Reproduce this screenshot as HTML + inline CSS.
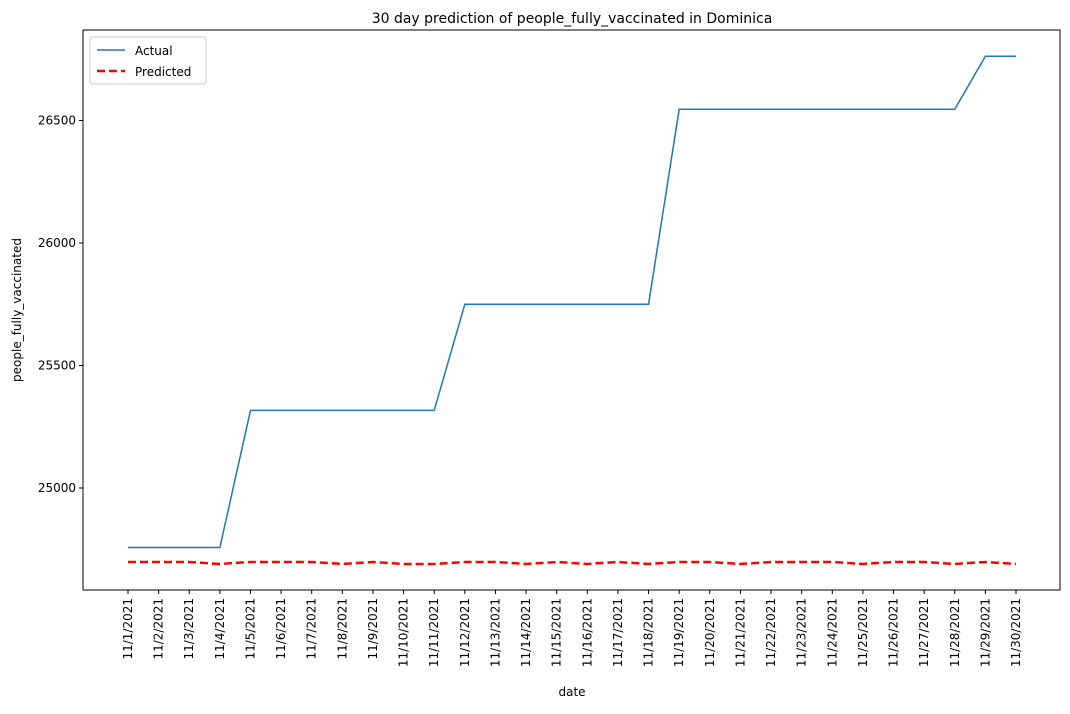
<!DOCTYPE html>
<html><head><meta charset="utf-8"><style>
body{margin:0;background:#fff;font-family:"Liberation Sans","DejaVu Sans",sans-serif}
svg text{font-family:"DejaVu Sans","Liberation Sans",sans-serif;font-size:12px;fill:#000}
</style></head><body>
<svg id="chart" width="1070" height="709">
<text x="572" y="23" text-anchor="middle" style="font-size:14px">30 day prediction of people_fully_vaccinated in Dominica</text>
<g id="plot"></g>
<rect x="83" y="30" width="977" height="560" fill="none" stroke="#000" stroke-width="1"/>
<text x="572" y="696" text-anchor="middle">date</text>
<text transform="translate(21,310) rotate(-90)" text-anchor="middle">people_fully_vaccinated</text>
<g>
<rect x="90" y="37" width="116" height="47" rx="3" fill="#fff" stroke="#ccc"/>
<line x1="97" y1="50" x2="125" y2="50" stroke="#1f77b4" stroke-width="1.5"/>
<text x="135" y="55">Actual</text>
<line x1="97" y1="71" x2="125" y2="71" stroke="red" stroke-width="2.5" stroke-dasharray="8,4"/>
<text x="135" y="76">Predicted</text>
</g>
</svg>
<script>
const dates = Array.from({length:30},(_,i)=>'11/'+(i+1)+'/2021');
const actual = [24757,24757,24757,24757,25317,25317,25317,25317,25317,25317,25317,25750,25750,25750,25750,25750,25750,25750,26546,26546,26546,26546,26546,26546,26546,26546,26546,26546,26762,26762];
const predicted = [24698,24698,24698,24690,24698,24698,24698,24690,24698,24690,24690,24698,24698,24690,24698,24690,24698,24690,24698,24698,24690,24698,24698,24698,24690,24698,24698,24690,24698,24690];
const yTicks = [25000,25500,26000,26500];
const NS='http://www.w3.org/2000/svg';
const x = i => 128 + i*(1016-128)/29;
const y = v => 488 - (v-25000)*0.245;
const g = document.getElementById('plot');
function mk(t,a){const e=document.createElementNS(NS,t);for(const k in a)e.setAttribute(k,a[k]);g.appendChild(e);return e;}
yTicks.forEach(v=>{
  const l=mk('line',{x1:79,x2:83,y1:y(v),y2:y(v),stroke:'#000'});
  
  
  const t=mk('text',{x:76,y:y(v)+4,'text-anchor':'end'});t.textContent=v;
  
  
});
dates.forEach((d,i)=>{
  const l=mk('line',{x1:x(i),x2:x(i),y1:590,y2:594,stroke:'#000'});
  
  
  const t=mk('text',{transform:`translate(${x(i)+4},598) rotate(-90)`,'text-anchor':'end'});t.textContent=d;
  
  
});
const pa=mk('polyline',{points:actual.map((v,i)=>x(i)+','+y(v)).join(' '),fill:'none',stroke:'#1f77b4','stroke-width':1.5});


const pp=mk('polyline',{points:predicted.map((v,i)=>x(i)+','+y(v)).join(' '),fill:'none',stroke:'red','stroke-width':2.5,'stroke-dasharray':'8,4'});


</script>
</body></html>
